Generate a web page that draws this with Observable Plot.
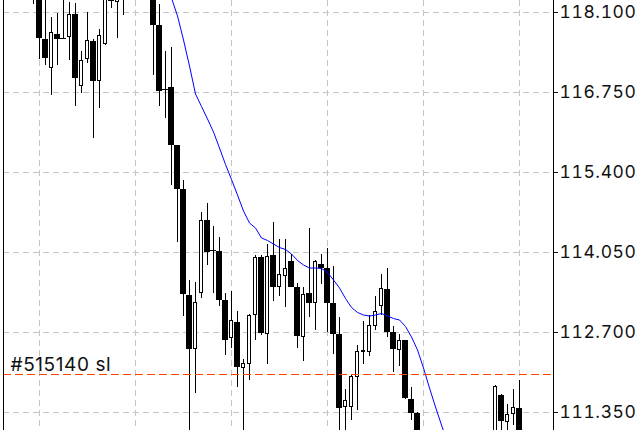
<!DOCTYPE html>
<html><head><meta charset="utf-8">
<script src="https://cdn.jsdelivr.net/npm/d3@7"></script>
<script src="https://cdn.jsdelivr.net/npm/@observablehq/plot@0.6"></script>
<style>html,body{margin:0;padding:0;background:#fff;}#chart{width:640px;height:430px;overflow:hidden;}</style>
</head><body><div id="chart"></div>
<script>
// candle index (one step = one bar)
const barIndex = [5,6,7,8,9,10,11,12,13,14,15,16,17,18,19,20,25,26,27,28,29,30,31,32,33,34,35,36,37,38,39,40,41,42,43,44,45,46,47,48,49,50,51,52,53,54,55,56,57,58,59,60,61,62,63,64,65,66,67,68,69,82,83,84,85,86];
const openP  = [118.60,118.55,117.648,117.158,117.737,117.668,117.682,118.058,116.855,117.310,117.619,116.949,117.563,118.36,118.282,118.50,118.60,117.889,116.805,116.838,115.852,115.105,113.321,112.417,113.362,114.582,114.090,114.075,113.232,112.602,112.872,112.096,112.163,112.995,113.974,112.670,113.991,113.463,113.658,113.906,113.456,112.619,113.350,113.193,113.851,113.783,113.181,112.658,111.438,111.438,111.954,112.365,112.376,112.815,113.152,113.434,112.697,112.405,112.557,111.573,111.325,110.95,111.645,111.195,111.325,111.421];
const highP  = [118.75,118.70,118.40,118.019,118.075,118.40,118.265,118.255,117.439,118.103,117.636,117.805,118.50,118.45,118.55,118.60,118.70,118.243,117.439,117.513,115.864,115.257,113.574,113.540,114.722,114.880,114.497,114.307,113.362,113.389,113.046,112.248,113.012,113.991,113.991,114.177,114.553,114.261,114.261,114.008,113.530,113.456,114.447,113.923,114.008,114.121,113.810,112.945,111.742,111.966,112.489,112.886,112.984,113.304,113.687,113.783,112.798,112.658,112.573,111.775,111.342,111.814,111.662,111.493,111.742,111.887];
const lowP   = [118.243,117.310,117.202,116.696,117.214,117.641,117.287,116.510,116.737,117.243,115.977,116.472,117.540,118.171,117.653,118.046,117.045,116.522,116.308,115.177,114.215,112.967,110.90,111.674,113.276,113.839,113.362,113.136,112.304,112.438,111.775,110.95,111.887,112.562,112.641,112.152,113.220,113.304,113.125,113.451,112.433,112.219,112.945,112.742,113.502,112.692,112.332,110.95,110.95,111.212,111.380,112.152,112.292,112.742,112.995,112.619,112.022,112.123,111.561,111.223,110.80,110.90,110.95,111.00,111.139,110.85];
const closeP = [118.45,117.658,117.320,117.749,117.648,117.642,118.058,116.983,117.282,117.619,116.932,117.703,118.40,118.294,118.45,118.40,117.877,116.764,116.780,115.852,115.105,113.333,112.417,113.193,114.582,114.053,114.065,113.236,112.562,112.889,112.106,112.163,112.978,113.962,112.687,113.974,113.463,113.670,113.772,113.463,112.629,113.333,113.181,113.895,113.783,113.181,112.670,111.421,111.544,111.954,112.366,112.385,112.810,113.041,113.434,112.700,112.405,112.557,111.590,111.325,110.90,111.775,111.195,111.308,111.421,110.95];

// moving average (blue line)
const maIndex = [28,29,30,31,32,33,34,35,36,37,38,39,40,41,42,43,44,45,46,47,48,49,50,51,52,53,54,55,56,57,58,59,60,61,62,63,64,65,66,67,68,69,70,71,72,73,74];
const maValue = [118.345,118.041,117.636,117.197,116.725,116.514,116.303,116.083,115.813,115.535,115.282,115.020,114.750,114.548,114.463,114.295,114.253,114.193,114.134,114.101,114.025,113.915,113.839,113.788,113.788,113.780,113.713,113.586,113.451,113.274,113.122,113.038,112.995,112.978,112.995,113.021,112.978,112.936,112.911,112.801,112.624,112.405,112.101,111.763,111.443,111.139,110.835];

const priceTicks = [118.1, 116.75, 115.4, 114.05, 112.7, 111.35];
const gridBars = [6, 22, 38, 54, 70, 86];
const stopLoss = 111.99;
const stopLabel = "#515140 sl";
const xDomain = [0, 91.6667];
const yDomain = [111.0462, 118.3025];

const candles = barIndex.map((i, k) => ({i, o: openP[k], h: highP[k], l: lowP[k], c: closeP[k]}));
const upBars = candles.filter(d => d.c >= d.o);
const downBars = candles.filter(d => d.c < d.o);
const ma = maIndex.map((i, k) => ({i, v: maValue[k]}));
const crisp = "crispEdges";

const chart = Plot.plot({
  width: 640, height: 430,
  marginLeft: 3, marginRight: 87, marginTop: 0, marginBottom: 0,
  style: {fontFamily: "Inter, 'Noto Sans', sans-serif", fontSize: "17.5px", letterSpacing: "0.6px", color: "#111", background: "#fff"},
  x: {domain: xDomain, axis: null},
  y: {domain: yDomain, axis: "right", ticks: priceTicks, tickFormat: d3.format(".3f"), tickSize: 4, tickPadding: 2, label: null},
  marks: [
    Plot.ruleY(priceTicks, {stroke: "#c4c4c4", strokeDasharray: "6,4", shapeRendering: crisp}),
    Plot.ruleX(gridBars, {stroke: "#c4c4c4", strokeDasharray: "6,4", shapeRendering: crisp}),
    Plot.ruleX(candles, {x: "i", y1: "l", y2: "h", stroke: "#000", clip: true, shapeRendering: crisp}),
    Plot.rect(downBars, {x1: d => d.i - 0.4167, x2: d => d.i + 0.4167, y1: "o", y2: "c", fill: "#000", clip: true, shapeRendering: crisp}),
    Plot.rect(upBars, {x1: d => d.i - 0.3333, x2: d => d.i + 0.3333, y1: "o", y2: "c", fill: "#fff", stroke: "#000", clip: true, shapeRendering: crisp}),
    Plot.line(ma, {x: "i", y: "v", stroke: "#0000ff", strokeWidth: 1, clip: true}),
    Plot.ruleY([stopLoss], {stroke: "#ff4500", strokeDasharray: "8,4", shapeRendering: crisp}),
    Plot.text([stopLoss], {y: d => d, text: () => stopLabel, frameAnchor: "left", dx: 7, dy: -9.5, textAnchor: "start", fill: "#111", fontSize: 19}),
    Plot.ruleX([xDomain[0], xDomain[1]], {stroke: "#000", shapeRendering: crisp})
  ]
});
document.getElementById("chart").appendChild(chart);
</script>
</body></html>
